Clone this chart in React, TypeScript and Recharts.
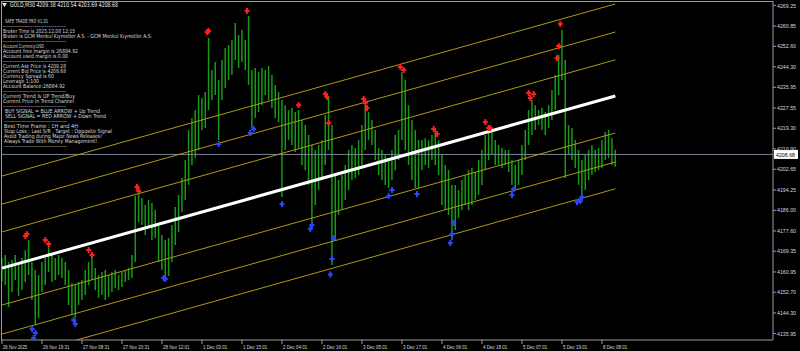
import React from 'react';
import { ComposedChart, Bar, XAxis, YAxis, ReferenceLine, Scatter } from 'recharts';

// ---- axis labels ----
const timeLabels = [
  '26 Nov 2025', '26 Nov 19:31', '27 Nov 08:31', '27 Nov 20:31', '28 Nov 12:01', '1 Dec 03:01',
  '1 Dec 15:01', '2 Dec 04:01', '2 Dec 16:01', '3 Dec 05:01', '3 Dec 17:01', '4 Dec 06:01',
  '4 Dec 18:01', '5 Dec 07:01', '5 Dec 19:01', '8 Dec 08:01',
];
const timeTickIndex = [0, 24, 48, 72, 96, 120, 144, 168, 192, 216, 240, 264, 288, 312, 336, 360];
const priceTicks = [
  4269.25, 4260.85, 4252.6, 4244.3, 4235.95, 4227.55, 4219.3, 4210.9, 4202.65, 4194.25,
  4186.0, 4177.6, 4169.35, 4160.95, 4152.7, 4144.3, 4135.95,
];

// ---- price bars (every second M30 bar) ----
const barHigh = [
  4166.6, 4167.8, 4165.0, 4165.8, 4167.8, 4165.0, 4166.6, 4169.8, 4173.9, 4165.0,
  4161.7, 4159.7, 4165.0, 4166.6, 4171.5, 4167.8, 4166.6, 4167.8, 4166.6, 4165.0,
  4161.7, 4156.4, 4155.6, 4156.9, 4157.7, 4161.7, 4165.0, 4167.4, 4162.5, 4159.7,
  4160.9, 4161.7, 4159.7, 4160.9, 4161.7, 4159.7, 4160.9, 4161.7, 4162.5, 4167.8,
  4191.8, 4193.4, 4191.0, 4188.1, 4190.2, 4188.9, 4186.1, 4180.0, 4175.9, 4173.9,
  4174.7, 4180.0, 4187.3, 4192.2, 4199.1, 4206.4, 4218.6, 4223.5, 4226.7, 4232.8,
  4231.6, 4234.0, 4256.0, 4243.0, 4246.2, 4238.9, 4247.0, 4251.9, 4253.1, 4255.2,
  4262.1, 4257.2, 4259.2, 4255.2, 4264.9, 4243.0, 4243.8, 4242.2, 4243.8, 4243.0,
  4244.6, 4240.9, 4236.9, 4234.0, 4230.8, 4228.7, 4226.7, 4227.5, 4225.9, 4226.7,
  4222.7, 4220.6, 4216.6, 4212.5, 4210.5, 4212.5, 4214.5, 4224.7, 4231.6, 4220.6,
  4200.3, 4198.3, 4200.3, 4204.4, 4210.5, 4212.5, 4211.3, 4214.5, 4220.6, 4228.3,
  4225.9, 4222.7, 4218.6, 4211.3, 4210.5, 4208.4, 4207.2, 4210.5, 4216.6, 4218.6,
  4242.2, 4238.9, 4228.7, 4222.7, 4218.6, 4214.5, 4214.5, 4215.3, 4214.5, 4216.6,
  4218.6, 4214.5, 4208.4, 4204.4, 4202.3, 4196.3, 4196.3, 4194.2, 4198.3, 4200.3,
  4202.3, 4203.2, 4201.5, 4206.4, 4210.5, 4216.6, 4220.6, 4219.4, 4214.5, 4212.5,
  4211.3, 4210.5, 4210.5, 4206.4, 4204.4, 4206.4, 4212.5, 4218.6, 4226.7, 4230.8,
  4228.7, 4226.7, 4227.5, 4225.9, 4228.7, 4234.8, 4240.9, 4249.1, 4259.2, 4247.0,
  4220.6, 4219.4, 4214.5, 4210.5, 4206.4, 4208.4, 4210.5, 4212.5, 4210.5, 4211.3,
  4214.5, 4217.8, 4218.6, 4215.3, 4210.54,
];
const barLow = [
  4156.9, 4155.6, 4146.7, 4152.8, 4157.7, 4151.2, 4153.6, 4156.9, 4159.7, 4149.5,
  4139.4, 4142.2, 4152.8, 4155.6, 4160.9, 4156.9, 4157.7, 4159.7, 4158.5, 4155.6,
  4147.5, 4143.4, 4142.2, 4147.5, 4149.5, 4151.6, 4155.6, 4157.7, 4153.6, 4150.4,
  4151.6, 4149.5, 4150.8, 4152.8, 4154.4, 4153.6, 4154.8, 4156.9, 4157.7, 4158.5,
  4165.0, 4181.2, 4180.0, 4175.9, 4178.8, 4173.9, 4174.7, 4165.0, 4161.7, 4158.5,
  4159.3, 4165.0, 4171.9, 4177.2, 4185.3, 4190.2, 4196.3, 4204.4, 4207.2, 4210.5,
  4218.6, 4219.4, 4226.7, 4230.8, 4232.8, 4214.5, 4230.8, 4235.7, 4238.9, 4240.9,
  4247.0, 4243.8, 4246.2, 4243.0, 4236.9, 4219.4, 4223.5, 4225.9, 4228.7, 4232.8,
  4230.8, 4227.5, 4223.5, 4221.8, 4191.4, 4210.5, 4214.5, 4212.5, 4209.7, 4211.3,
  4204.4, 4202.3, 4196.3, 4181.2, 4188.1, 4194.2, 4198.3, 4204.4, 4210.5, 4163.8,
  4173.9, 4184.1, 4186.1, 4190.2, 4194.2, 4198.3, 4199.1, 4200.3, 4204.4, 4210.5,
  4214.5, 4212.5, 4206.4, 4200.3, 4198.3, 4196.3, 4195.0, 4198.3, 4202.3, 4206.4,
  4214.5, 4210.5, 4204.4, 4198.3, 4195.0, 4195.0, 4202.3, 4204.4, 4203.2, 4206.4,
  4204.4, 4200.3, 4188.1, 4186.1, 4184.1, 4173.9, 4178.0, 4182.8, 4186.1, 4188.1,
  4186.1, 4188.1, 4190.2, 4192.2, 4196.3, 4202.3, 4206.4, 4208.4, 4204.4, 4204.4,
  4203.2, 4204.4, 4201.5, 4196.3, 4194.2, 4196.3, 4200.3, 4206.4, 4212.5, 4216.6,
  4218.6, 4220.6, 4218.6, 4216.6, 4219.4, 4222.7, 4226.7, 4232.8, 4238.9, 4199.1,
  4208.4, 4206.4, 4203.2, 4196.3, 4191.4, 4194.2, 4198.3, 4200.3, 4201.5, 4202.3,
  4203.2, 4206.4, 4207.2, 4204.4, 4203.69,
];

// ---- regression channel ----
const channelFromIndex = 0;
const channelToIndex = 368;
const channelStart = 4162.5;
const channelEnd = 4232.4;
const channelOffsets = [37.4, 26.0, 14.7, -15.0, -26.8, -37.7];

// ---- signals ----
const sellIndex = [14, 15, 26, 28, 52, 54, 81, 82, 123, 124, 147, 178, 194, 195, 196, 217, 218, 219, 239, 241, 259, 261, 290, 292, 293, 316, 317, 319, 333, 334, 335];
const sellPrice = [4175.5, 4176.3, 4173.9, 4172.3, 4169.8, 4167.8, 4195.5, 4193.8, 4258.4, 4258.8, 4267.0, 4228.7, 4233.2, 4232.0, 4221.4, 4231.2, 4229.6, 4227.5, 4244.2, 4243.0, 4219.0, 4217.0, 4221.8, 4219.4, 4219.4, 4233.6, 4231.6, 4233.2, 4247.8, 4252.7, 4261.7];
const buyIndex = [18, 19, 20, 43, 44, 97, 98, 130, 149, 151, 168, 185, 186, 197, 198, 199, 232, 234, 249, 269, 270, 271, 306, 307, 345, 347, 348];
const buyPrice = [4137.8, 4134.1, 4136.2, 4141.4, 4139.8, 4158.5, 4158.1, 4212.9, 4217.4, 4219.0, 4188.5, 4178.4, 4180.0, 4159.9, 4166.2, 4174.7, 4191.8, 4194.2, 4192.6, 4172.7, 4176.3, 4180.8, 4192.2, 4194.6, 4189.3, 4189.7, 4191.4];

const lastClose = 4208.68;
const headerText = 'GOLD,M30  4209.38 4210.54 4203.69 4208.68';

const infoLines = [
  'SAFE TRADE PRO  V1.01',
  '--------------------------------',
  'Broker Time is 2025.12.08 12:15',
  'Broker is GCM Menkul Kıymetler A.S. - GCM Menkul Kıymetler A.S.',
  '--------------------------------',
  'Account Currency:USD',
  'Account free margin is 26884.92',
  'Account used margin is 0.00',
  '--------------------------------',
  'Current Ask Price is 4209.28',
  'Current Bid Price is 4208.68',
  'Currency Spread is 60',
  'Leverage 1:100',
  'Account Balance:26884.92',
  '--------------------------------',
  'Current Trend Is UP Trend/Buy',
  'Current Price In Trend Channel',
  '--------------------------------',
  'BUY SIGNAL = BLUE ARROW + Up Trend',
  'SELL SIGNAL = RED ARROW + Down Trend',
  '--------------------------------',
  'Best Time Frame : 1H and 4H',
  'Stop Loss : Last S/R , Target : Opposite Signal',
  'Avoid Trading during Major News Releases!',
  'Always Trade With Money Management!',
  '--------------------------------',
];
// layout of the info block: [x, centerY, width]
const infoLayout: [number, number, number][] = [
  [5, 21, 43], [3, 26, 63], [3, 31, 72], [3, 35.7, 149], [3, 41, 63],
  [3, 45.7, 41], [3, 50.7, 75], [3, 55.7, 65], [3, 61, 63],
  [3, 65.7, 63], [3, 70.7, 63], [3, 75.7, 51], [3, 80.7, 36], [3, 85.7, 62], [3, 91, 63],
  [3, 95.7, 72], [3, 100.7, 71], [3, 106, 63],
  [5, 110.7, 95], [5, 116, 101], [4, 121, 63],
  [4, 125.7, 74], [4, 131, 108], [4, 136, 98], [4, 141, 93], [4, 146, 63],
];

const bars = barHigh.map((h, k) => ({ i: k * 2, range: [barLow[k], h] }));
const sellSignals = sellIndex.map((i, n) => ({ i, p: sellPrice[n] }));
const buySignals = buyIndex.map((i, n) => ({ i, p: buyPrice[n] }));

const FONT = 'DejaVu Sans, Verdana, sans-serif';
const AXIS_FONT = 'Liberation Sans, Arial, sans-serif';
const AXIS_COLOR = '#9a9a9a';
const TEXT_COLOR = '#d8d8d8';

const makeMark = (color: string) => (props: any) => {
  const { cx, cy } = props;
  if (cx == null || cy == null) return <g />;
  return (
    <g fill={color}>
      <rect x={cx - 2.5} y={cy - 1} width={5} height={2} />
      <rect x={cx - 1} y={cy - 3} width={2} height={6} />
    </g>
  );
};

const TimeTick = (props: any) => {
  const { x, y, payload } = props;
  const idx = timeTickIndex.indexOf(payload.value);
  const label = idx >= 0 ? timeLabels[idx] : '';
  return (
    <g>
      <line x1={x} y1={y} x2={x} y2={y + 4} stroke={AXIS_COLOR} />
      <text x={x + 1} y={y + 8.5} fill={TEXT_COLOR} fontSize={6} fontFamily={AXIS_FONT}
        textLength={label.length * 2.2} lengthAdjust="spacingAndGlyphs">{label}</text>
    </g>
  );
};

const PriceTick = (props: any) => {
  const { x, y, payload } = props;
  const label = Number(payload.value).toFixed(2);
  return (
    <g>
      <line x1={x} y1={y} x2={x + 3} y2={y} stroke={AXIS_COLOR} />
      <text x={x + 4} y={y + 2.2} fill={TEXT_COLOR} fontSize={6} fontFamily={AXIS_FONT}
        textLength={19} lengthAdjust="spacingAndGlyphs">{label}</text>
    </g>
  );
};

const PriceTag = (props: any) => {
  const vb = props.viewBox || {};
  const x = (vb.x || 0) + (vb.width || 0);
  const y = vb.y || 0;
  return (
    <g>
      <rect x={x + 1} y={y - 4.5} width={24} height={9} fill="#ffffff" />
      <text x={x + 3} y={y + 2.3} fill="#000" fontSize={6} fontFamily={AXIS_FONT}
        textLength={19} lengthAdjust="spacingAndGlyphs">{lastClose.toFixed(2)}</text>
    </g>
  );
};

export default function App() {
  return (
    <div style={{ position: 'absolute', left: 0, top: 0, width: 800, height: 351, background: '#000', overflow: 'hidden' }}>
      <ComposedChart width={800} height={351} data={bars} margin={{ top: 1, right: 0, bottom: 0, left: 1 }}>
        <XAxis dataKey="i" type="number" domain={[-0.6, 462.6]} ticks={timeTickIndex} interval={0}
          height={11} tickSize={0} tickMargin={0} tickLine={false} axisLine={{ stroke: AXIS_COLOR }}
          tick={(p: any) => <TimeTick {...p} />} allowDataOverflow />
        <YAxis orientation="right" type="number" domain={[4133.3, 4271.0]} ticks={priceTicks} interval={0}
          width={27} tickSize={0} tickMargin={0} tickLine={false} axisLine={{ stroke: AXIS_COLOR }}
          tick={(p: any) => <PriceTick {...p} />} allowDataOverflow />
        <ReferenceLine y={lastClose} stroke="#778494" strokeWidth={1}
          label={(p: any) => <PriceTag {...p} />} />
        {channelOffsets.map((off, n) => (
          <ReferenceLine key={n} ifOverflow="hidden" stroke="#b09818" strokeWidth={1}
            segment={[{ x: channelFromIndex, y: channelStart + off }, { x: channelToIndex, y: channelEnd + off }]} />
        ))}
        <Bar dataKey="range" barSize={2} fill="#159a15" isAnimationActive={false} />
        <ReferenceLine ifOverflow="hidden" stroke="#ffffff" strokeWidth={3}
          segment={[{ x: channelFromIndex, y: channelStart }, { x: channelToIndex, y: channelEnd }]} />
        <Scatter data={sellSignals} dataKey="p" shape={makeMark('#ff2020')} isAnimationActive={false} />
        <Scatter data={buySignals} dataKey="p" shape={makeMark('#2848ff')} isAnimationActive={false} />
      </ComposedChart>
      <svg width={800} height={351} style={{ position: 'absolute', left: 0, top: 0, pointerEvents: 'none' }}>
        <line x1={1} y1={1.5} x2={773} y2={1.5} stroke={AXIS_COLOR} />
        <line x1={1.5} y1={1} x2={1.5} y2={340} stroke={AXIS_COLOR} />
        <polygon points="2,3 7,3 4.5,7" fill="#e0e0e0" />
        <text x={10} y={7.3} fill="#e8e8e8" fontSize={6.5} fontFamily={FONT}
          textLength={108} lengthAdjust="spacingAndGlyphs">{headerText}</text>
        {infoLines.map((t, n) => (
          <text key={n} x={infoLayout[n][0]} y={infoLayout[n][1] + 2} fill={TEXT_COLOR} fontSize={5.6}
            fontFamily={FONT} textLength={infoLayout[n][2]} lengthAdjust="spacingAndGlyphs">{t}</text>
        ))}
      </svg>
    </div>
  );
}
